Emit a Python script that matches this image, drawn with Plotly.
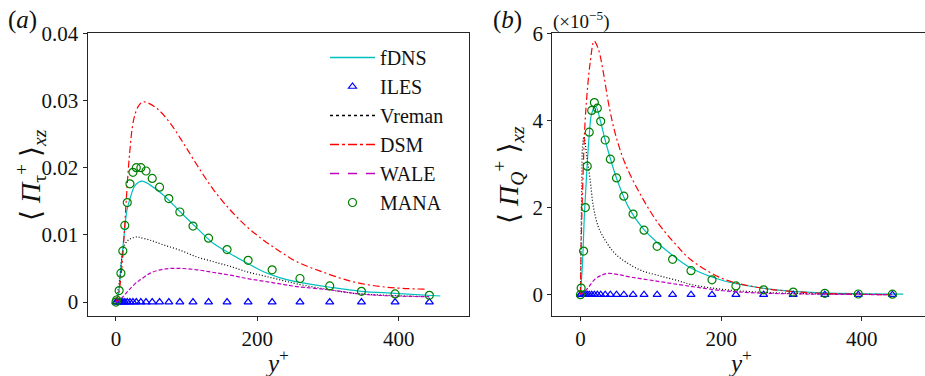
import plotly.graph_objects as go

# ---------------- data ----------------
# wall-normal grid (y+) of the LES points (ILES / MANA markers)
grid_yplus = [0, 1, 4.5, 7, 9.7, 12.5, 16, 19.8, 24, 28.8, 35.2, 42.5, 51.3, 61.7,
              74.8, 90.4, 109, 131, 157.2, 187, 221, 260.4, 302.5, 347.4, 395, 443.5]

# ---- panel (a): <Pi_tau^+>_xz ----
a_fdns_x = [0, 3.7, 7.1, 10.8, 15.6, 20.2, 27.3, 36.8, 48.5, 67.4, 91, 114.6, 138.1,
            161.7, 185.4, 208.9, 232.5, 256.1, 303.3, 347, 394.8, 459]
a_fdns_y = [0, 0.0013, 0.0053, 0.0092, 0.0137, 0.0155, 0.0174, 0.0180, 0.0174, 0.0159,
            0.0134, 0.0110, 0.0087, 0.0072, 0.0058, 0.0045, 0.0036, 0.0030, 0.0022,
            0.0016, 0.0013, 0.0009]
a_iles_y = [0, 0, 0, 0, 0, 0, 0, 0, 0, 0, 0, 0, 0, 0, 0, 0, 0, 0, 0, 0, 0, 0, 0, 0, 0, 0]
a_vreman_x = [0, 2, 5.1, 8.5, 13.2, 20.2, 30, 34.4, 48.5, 67.4, 91, 114.6, 138.1, 161.7,
              185.4, 208.9, 232.5, 256.1, 303.3, 336, 383, 443]
a_vreman_y = [0, 0.0012, 0.0033, 0.0067, 0.0087, 0.0094, 0.0097, 0.0096, 0.0092, 0.0085,
              0.0077, 0.0067, 0.0060, 0.0053, 0.0045, 0.0039, 0.0033, 0.0027, 0.0018,
              0.0013, 0.0010, 0.0008]
a_dsm_x = [0, 3, 7.1, 10.8, 14.6, 19.3, 25, 32, 39.1, 58, 76.8, 95.7, 114.6, 138.1,
           161.7, 185.4, 208.9, 232.5, 256.1, 289, 336.2, 383.5, 440]
a_dsm_y = [0, 0.0008, 0.0038, 0.0087, 0.0152, 0.0221, 0.0271, 0.0292, 0.0298, 0.0288,
           0.0266, 0.0236, 0.0204, 0.0167, 0.0137, 0.0112, 0.0092, 0.0075, 0.0060,
           0.0046, 0.0030, 0.0022, 0.0019]
a_wale_x = [0, 5, 10, 15, 20.2, 30, 34.4, 48.5, 67.4, 91, 114.6, 138.1, 161.7, 185.4,
            208.9, 232.5, 256.1, 303.3, 345.7, 392.8, 443]
a_wale_y = [0, 0.0003, 0.0008, 0.0014, 0.0020, 0.0030, 0.0033, 0.0043, 0.0049, 0.0050,
            0.0048, 0.0044, 0.0040, 0.0035, 0.0031, 0.0027, 0.0023, 0.0018, 0.0012,
            0.0009, 0.0008]
a_mana_y = [0, 0.0003, 0.0017, 0.0043, 0.0076, 0.0114, 0.0148, 0.0176, 0.0193, 0.0200,
            0.0200, 0.0195, 0.0184, 0.0171, 0.0154, 0.0134, 0.0113, 0.0095, 0.0078,
            0.0062, 0.0048, 0.0035, 0.0024, 0.0016, 0.0012, 0.0010]

# ---- panel (b): <Pi_Q^+>_xz, in units of 1e-5 ----
b_fdns_x = [0, 2.9, 5.7, 9.1, 12.4, 16.2, 21.9, 28, 35.1, 44.6, 54, 68.2, 87.3, 110.9,
            134.6, 158.3, 203.3, 250.7, 298, 345, 400, 459]
b_fdns_y = [0, 0.71, 1.86, 2.86, 3.63, 4.17, 4.32, 4.01, 3.55, 3.01, 2.55, 2.01, 1.55,
            1.17, 0.86, 0.60, 0.32, 0.17, 0.08, 0.04, 0.02, 0.01]
b_iles_y = [0, 0, 0, 0, 0, 0, 0, 0, 0, 0, 0, 0, 0, 0, 0, 0, 0, 0, 0, 0, 0, 0, 0, 0, 0, 0]
b_vreman_x = [0, 1, 2, 2.9, 5, 9.1, 13.8, 18.5, 25.6, 35.1, 49.3, 68.2, 87.3, 110.9,
              134.6, 158.3, 203, 250, 300, 350, 443]
b_vreman_y = [0, 1.48, 2.63, 3.40, 3.63, 3.17, 2.63, 2.01, 1.55, 1.25, 0.94, 0.71, 0.55,
              0.44, 0.34, 0.23, 0.12, 0.06, 0.03, 0.015, 0.0]
b_dsm_x = [0, 1.5, 3.5, 6, 9.1, 13.8, 19.5, 25.6, 32.7, 39.8, 49.3, 63.5, 87.3, 110.9,
           134.6, 157, 203.3, 250.7, 298, 345.4, 440]
b_dsm_y = [0, 1.48, 2.63, 3.78, 4.55, 5.32, 5.82, 5.63, 5.09, 4.40, 3.71, 3.01, 2.24,
           1.63, 1.17, 0.80, 0.36, 0.17, 0.077, 0.03, 0.0]
b_wale_x = [0, 5, 11.4, 20.9, 30.4, 39.8, 54, 73, 96.7, 120.4, 148.8, 203, 250, 300,
            350, 443]
b_wale_y = [0, 0.05, 0.17, 0.36, 0.45, 0.49, 0.46, 0.40, 0.34, 0.28, 0.21, 0.09, 0.04,
            0.02, 0.01, 0.0]
b_mana_y = [0, 0.15, 1.0, 2.0, 2.95, 3.73, 4.23, 4.41, 4.28, 3.98, 3.55, 3.11, 2.68,
            2.26, 1.85, 1.48, 1.11, 0.81, 0.55, 0.34, 0.20, 0.11, 0.06, 0.03, 0.015, 0.01]

x_ticks = [0, 200, 400]
a_y_ticks = [0, 0.01, 0.02, 0.03, 0.04]
a_y_ticktext = ["0", "0.01", "0.02", "0.03", "0.04"]
b_y_ticks = [0, 2, 4, 6]
legend_names = ["fDNS", "ILES", "Vreman", "DSM", "WALE", "MANA"]

# ---------------- figure ----------------
FONT = "Liberation Serif, Tinos, DejaVu Serif, Noto Serif, Times New Roman, serif"
W, H = 925, 376
C_FDNS, C_ILES, C_VRE, C_DSM, C_WALE, C_MANA = "#00BFBF", "#0000FF", "#000000", "#FF0000", "#BF00BF", "#008000"
LW = 1.2

# plot styles (fine dash patterns) and legend styles (plotly named dashes)
styles = {
    "fDNS": dict(mode="lines", line=dict(color=C_FDNS, width=LW, dash="solid"), ldash="solid"),
    "ILES": dict(mode="markers", marker=dict(symbol="triangle-up-open", size=7, color=C_ILES, line=dict(width=1.2, color=C_ILES))),
    "Vreman": dict(mode="lines", line=dict(color=C_VRE, width=LW, dash="1px,2px"), ldash="dot"),
    "DSM": dict(mode="lines", line=dict(color=C_DSM, width=LW, dash="7px,3px,2px,3px"), ldash="dashdot"),
    "WALE": dict(mode="lines", line=dict(color=C_WALE, width=LW, dash="4px,2px"), ldash="dash"),
    "MANA": dict(mode="markers", marker=dict(symbol="circle-open", size=8, color=C_MANA, line=dict(width=1.2, color=C_MANA))),
}

fig = go.Figure()

def add_trace(name, x, y, xa, ya):
    st = styles[name]
    kw = dict(mode=st["mode"])
    if "line" in st:
        kw["line"] = dict(st["line"], shape="spline")
    if "marker" in st:
        kw["marker"] = st["marker"]
    fig.add_trace(go.Scatter(x=x, y=y, name=name, xaxis=xa, yaxis=ya, showlegend=False, **kw))

for xa, ya, data in [
    ("x", "y", [("fDNS", a_fdns_x, a_fdns_y), ("ILES", grid_yplus, a_iles_y), ("Vreman", a_vreman_x, a_vreman_y),
                ("DSM", a_dsm_x, a_dsm_y), ("WALE", a_wale_x, a_wale_y), ("MANA", grid_yplus, a_mana_y)]),
    ("x2", "y2", [("fDNS", b_fdns_x, b_fdns_y), ("ILES", grid_yplus, b_iles_y), ("Vreman", b_vreman_x, b_vreman_y),
                  ("DSM", b_dsm_x, b_dsm_y), ("WALE", b_wale_x, b_wale_y), ("MANA", grid_yplus, b_mana_y)]),
]:
    for name, x, y in data:
        add_trace(name, x, y, xa, ya)

# legend entries
for name in legend_names:
    st = styles[name]
    kw = dict(mode=st["mode"])
    if "line" in st:
        kw["line"] = dict(color=st["line"]["color"], width=1.3, dash=st["ldash"])
    if "marker" in st:
        kw["marker"] = st["marker"]
    fig.add_trace(go.Scatter(x=[None], y=[None], name=name, xaxis="x", yaxis="y", showlegend=True, **kw))

ydom = [(376 - 316) / H, (376 - 33.3) / H]
axis_common = dict(showline=True, linecolor="#262626", linewidth=1.3, showgrid=False, zeroline=False,
                   ticks="outside", ticklen=4, tickwidth=1.1, tickcolor="#262626", automargin=False,
                   tickfont=dict(family=FONT, size=21, color="#111111"))

fig.update_layout(
    width=W, height=H, margin=dict(l=0, r=0, t=0, b=0, autoexpand=False),
    paper_bgcolor="white", plot_bgcolor="white",
    font=dict(family=FONT, color="#111111"),
    xaxis=dict(domain=[87.7 / W, 469.3 / W], range=[-40, 500], tickvals=x_ticks, anchor="y", mirror=True, **axis_common),
    yaxis=dict(domain=ydom, range=[-0.00208, 0.04], tickvals=a_y_ticks, ticktext=a_y_ticktext, anchor="x", mirror=True, **axis_common),
    xaxis2=dict(domain=[552.3 / W, 1.0], range=[-40, 489.8], tickvals=x_ticks, anchor="y2", mirror=True, **axis_common),
    yaxis2=dict(domain=ydom, range=[-0.49, 6], tickvals=b_y_ticks, anchor="x2", mirror=False, **axis_common),
    legend=dict(x=325 / W, y=1 - 38 / H, xanchor="left", yanchor="top", bgcolor="rgba(0,0,0,0)",
                font=dict(family=FONT, size=20, color="#111111"), itemwidth=45, borderwidth=0),
    annotations=[
        dict(text="(<i>a</i>)", x=6 / W, y=1 - 20 / H, xref="paper", yref="paper", xanchor="left", yanchor="middle",
             showarrow=False, font=dict(family=FONT, size=25)),
        dict(text="(<i>b</i>)", x=491 / W, y=1 - 20 / H, xref="paper", yref="paper", xanchor="left", yanchor="middle",
             showarrow=False, font=dict(family=FONT, size=25)),
        dict(text="(×10<sup>−5</sup>)", x=551 / W, y=1 - 20 / H, xref="paper", yref="paper", xanchor="left", yanchor="middle",
             showarrow=False, font=dict(family=FONT, size=19)),
        dict(text="⟨ <i>Π</i><sub>τ</sub><sup>+</sup> ⟩<sub><i>xz</i></sub>", x=30 / W, y=1 - 175 / H, xref="paper", yref="paper",
             xanchor="center", yanchor="middle", textangle=-90, showarrow=False, font=dict(family=FONT, size=28)),
        dict(text="⟨ <i>Π</i><sub><i>Q</i></sub><sup>+</sup> ⟩<sub><i>xz</i></sub>", x=508 / W, y=1 - 175 / H, xref="paper", yref="paper",
             xanchor="center", yanchor="middle", textangle=-90, showarrow=False, font=dict(family=FONT, size=28)),
        dict(text="<i>y</i><sup>+</sup>", x=277 / W, y=1 - 361 / H, xref="paper", yref="paper",
             xanchor="center", yanchor="middle", showarrow=False, font=dict(family=FONT, size=25)),
        dict(text="<i>y</i><sup>+</sup>", x=740 / W, y=1 - 361 / H, xref="paper", yref="paper",
             xanchor="center", yanchor="middle", showarrow=False, font=dict(family=FONT, size=25)),
    ],
)

fig.write_html("out.html")
